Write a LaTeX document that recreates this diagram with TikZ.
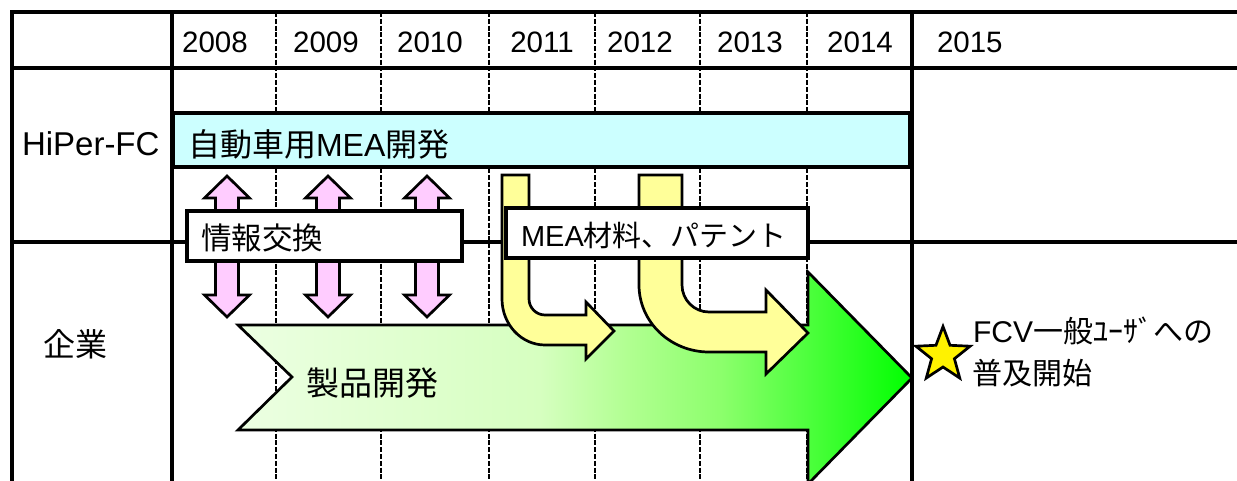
\documentclass[tikz,border=0pt]{standalone}
\usepackage{fontspec}
\setmainfont{Liberation Sans}
\newfontfamily\jp{Noto Sans CJK JP}
\newcommand{\myfs}[1]{\fontsize{#1}{#1}\selectfont}
\definecolor{barblue}{HTML}{CCFFFF}
\definecolor{pinkfill}{HTML}{FFCCFF}
\definecolor{yelfill}{HTML}{FFFF99}
\definecolor{gA}{HTML}{ECFFE2}
\definecolor{gB}{HTML}{D6FFC0}
\definecolor{gC}{HTML}{B0FF90}
\definecolor{gD}{HTML}{8CFF6C}
\definecolor{gE}{HTML}{4CFF3C}
\definecolor{gF}{HTML}{00FF00}
\pgfdeclarehorizontalshading{greenfade}{100bp}{color(0bp)=(gA); color(25bp)=(gA); color(47.4bp)=(gB); color(54.1bp)=(gC); color(60.8bp)=(gD); color(67.4bp)=(gE); color(75bp)=(gF); color(100bp)=(gF)}
\begin{document}
\begin{tikzpicture}[x=1pt,y=-1pt,
  gridline/.style={line width=3.2pt,black},
  dashline/.style={line width=2.2pt,black,dash pattern=on 5pt off 1.8pt},
  boxstyle/.style={line width=3.2pt,draw=black},
  arrowshape/.style={line width=2.7pt,draw=black,line join=miter},
  txt/.style={inner sep=0pt,outer sep=0pt,anchor=base west}]
\useasboundingbox (0,0) rectangle (1237,481);
\clip (0,0) rectangle (1237,481);
\fill[white] (0,0) rectangle (1237,481);
% grid
\foreach \xx in {276,381,489,595,700,807}
  \draw[dashline] (\xx,12) -- (\xx,481);
\draw[gridline] (12,12) -- (1237,12);
\draw[gridline] (12,68) -- (1237,68);
\draw[gridline] (12,242) -- (1237,242);
\foreach \xx in {12,172,912}
  \draw[gridline] (\xx,10.4) -- (\xx,481);
% blue bar
\draw[boxstyle,fill=barblue] (173,113) rectangle (910,167);
% green arrow
\shadedraw[shading=greenfade,arrowshape]
  (238,325) -- (808,325) -- (808,272) -- (912,378) -- (808,484) -- (808,430) -- (238,430) -- (292,377) -- cycle;
% pink double arrows
\foreach \cx in {227,328,427}
  \draw[arrowshape,fill=pinkfill]
   (\cx,176) -- ++(22.5,22) -- ++(-11,0) -- (\cx+11.5,295) -- ++(11,0) -- (\cx,317)
   -- (\cx-22.5,295) -- ++(11,0) -- (\cx-11.5,198) -- ++(-11,0) -- cycle;
% yellow bent arrows
\draw[arrowshape,fill=yelfill]
  (502,175) -- (529,175) -- (529,299) .. controls (529,307.8) and (536.2,315) .. (545,315)
  -- (586,315) -- (586,302) -- (614,331) -- (586,359) -- (586,345) -- (545,345)
  .. controls (521.3,345) and (502,324.4) .. (502,299) -- cycle;
\draw[arrowshape,fill=yelfill]
  (639,175) -- (682,175) -- (682,285) .. controls (682,299.9) and (694.1,312) .. (709,312)
  -- (766,312) -- (766,290) -- (808,333) -- (766,374) -- (766,352) -- (709,352)
  .. controls (670.4,352) and (639,322) .. (639,285) -- cycle;
% label boxes
\draw[boxstyle,fill=white] (187,211) rectangle (462,261);
\draw[boxstyle,fill=white] (506,208) rectangle (808,258);
% star
\draw[line width=2.7pt,fill=yellow,line join=miter,shift={(943,355)}]
  (-90:28.5) -- (-54:12) -- (-18:28.5) -- (18:12) -- (54:28.5) -- (90:12)
  -- (126:28.5) -- (162:12) -- (198:28.5) -- (234:12) -- cycle;
% texts
\node[txt,anchor=base] (y2008) at (215,53) {\myfs{29.5}2008};
\node[txt,anchor=base] (y2009) at (326,53) {\myfs{29.5}2009};
\node[txt,anchor=base] (y2010) at (430,53) {\myfs{29.5}2010};
\node[txt,anchor=base] (y2011) at (542,53) {\myfs{29.5}2011};
\node[txt,anchor=base] (y2012) at (640,53) {\myfs{29.5}2012};
\node[txt,anchor=base] (y2013) at (750,53) {\myfs{29.5}2013};
\node[txt,anchor=base] (y2014) at (860,53) {\myfs{29.5}2014};
\node[txt] (y2015) at (937,53) {\myfs{29.5}2015};
\node[txt] (hiper) at (22,156) {\myfs{33}HiPer-FC};
\node[txt] (kigyo) at (43,356) {\myfs{32}\jp 企業};
\node[txt] (meadev) at (188,157) {\myfs{32}{\jp 自動車用}MEA{\jp 開発}};
\node[txt] (joho) at (201,250) {\myfs{30.5}\jp 情報交換};
\node[txt] (seihin) at (306,395) {\myfs{33}\jp 製品開発};
\node[txt] (meamat) at (521,247) {\myfs{29}MEA{\jp 材料、パテント}};
\node[txt] (fcv) at (973,342) {\myfs{30}FCV{\jp 一般ﾕｰｻﾞへの}};
\node[txt] (fukyu) at (972,384) {\myfs{30}\jp 普及開始};
\end{tikzpicture}
\end{document}
